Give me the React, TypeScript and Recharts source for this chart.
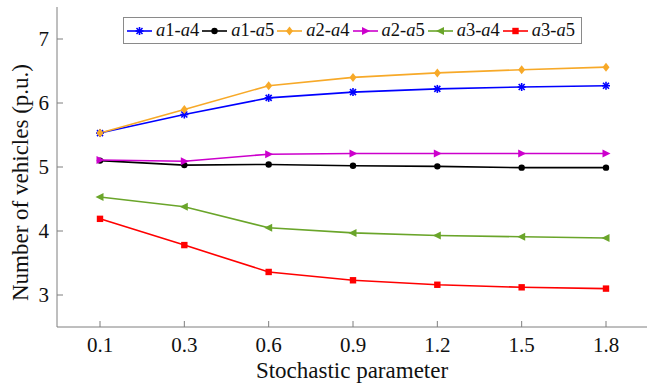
import React from "react";
import { LineChart, Line, XAxis, YAxis } from "recharts";

document.body.style.margin = "0";

const params = ["0.1", "0.3", "0.6", "0.9", "1.2", "1.5", "1.8"];
const a1a4 = [5.53, 5.82, 6.08, 6.17, 6.22, 6.25, 6.27];
const a1a5 = [5.1, 5.03, 5.04, 5.02, 5.01, 4.99, 4.99];
const a2a4 = [5.53, 5.9, 6.27, 6.4, 6.47, 6.52, 6.56];
const a2a5 = [5.11, 5.09, 5.2, 5.21, 5.21, 5.21, 5.21];
const a3a4 = [4.53, 4.38, 4.05, 3.97, 3.93, 3.91, 3.89];
const a3a5 = [4.19, 3.78, 3.36, 3.23, 3.16, 3.12, 3.1];
const yTicks = [3, 4, 5, 6, 7];

const FONT = "'Liberation Serif', 'Times New Roman', 'DejaVu Serif', serif";
const AXIS = "#7f7f7f";

type Shape = "star" | "circle" | "diamond" | "right" | "left" | "square";

const series: { key: string; from: string; to: string; color: string; shape: Shape; values: number[] }[] = [
  { key: "a1a4", from: "1", to: "4", color: "#0000ff", shape: "star", values: a1a4 },
  { key: "a1a5", from: "1", to: "5", color: "#000000", shape: "circle", values: a1a5 },
  { key: "a2a4", from: "2", to: "4", color: "#f7a928", shape: "diamond", values: a2a4 },
  { key: "a2a5", from: "2", to: "5", color: "#cc00cc", shape: "right", values: a2a5 },
  { key: "a3a4", from: "3", to: "4", color: "#6aa52a", shape: "left", values: a3a4 },
  { key: "a3a5", from: "3", to: "5", color: "#ff0000", shape: "square", values: a3a5 },
];

const data = params.map((p, i) => {
  const row: Record<string, string | number> = { p };
  series.forEach((s) => (row[s.key] = s.values[i]));
  return row;
});

function Marker({ cx, cy, color, shape }: { cx: number; cy: number; color: string; shape: Shape }) {
  switch (shape) {
    case "star":
      return (
        <g stroke={color} strokeWidth={1.6}>
          <line x1={cx - 4} y1={cy} x2={cx + 4} y2={cy} />
          <line x1={cx} y1={cy - 4} x2={cx} y2={cy + 4} />
          <line x1={cx - 3} y1={cy - 3} x2={cx + 3} y2={cy + 3} />
          <line x1={cx - 3} y1={cy + 3} x2={cx + 3} y2={cy - 3} />
        </g>
      );
    case "circle":
      return <circle cx={cx} cy={cy} r={3.2} fill={color} />;
    case "diamond":
      return <polygon points={`${cx},${cy - 4.5} ${cx + 3.5},${cy} ${cx},${cy + 4.5} ${cx - 3.5},${cy}`} fill={color} />;
    case "right":
      return <polygon points={`${cx - 3.5},${cy - 4} ${cx + 4.5},${cy} ${cx - 3.5},${cy + 4}`} fill={color} />;
    case "left":
      return <polygon points={`${cx + 3.5},${cy - 4} ${cx - 4.5},${cy} ${cx + 3.5},${cy + 4}`} fill={color} />;
    default:
      return <rect x={cx - 3.2} y={cy - 3.2} width={6.4} height={6.4} fill={color} />;
  }
}

function LegendBox() {
  return (
    <div
      style={{
        position: "absolute",
        top: 17,
        left: 123,
        display: "flex",
        alignItems: "center",
        border: "1px solid #8a8a8a",
        background: "#fff",
        height: 25,
        padding: "0 3px 0 3px",
        fontFamily: FONT,
        fontSize: 18.5,
        color: "#111",
        whiteSpace: "nowrap",
      }}
    >
      {series.map((s) => (
        <div key={s.key} style={{ display: "flex", alignItems: "center", marginRight: 3 }}>
          <svg width={25} height={12} style={{ marginRight: 4 }}>
            <line x1={0} y1={6} x2={25} y2={6} stroke={s.color} strokeWidth={1.6} />
            <Marker cx={12.5} cy={6} color={s.color} shape={s.shape} />
          </svg>
          <span>
            <i>a</i>
            {s.from}-<i>a</i>
            {s.to}
          </span>
        </div>
      ))}
    </div>
  );
}

export default function App() {
  return (
    <div style={{ width: 651, height: 389, background: "#fff", position: "relative", fontFamily: FONT }}>
      <LineChart width={651} height={389} data={data} margin={{ top: 7, right: 4, left: 0, bottom: 0 }}>
        <XAxis
          dataKey="p"
          type="category"
          padding={{ left: 43, right: 41 }}
          height={62}
          stroke={AXIS}
          tickSize={-6}
          tickMargin={16}
          tick={{ fill: "#111", fontSize: 21, fontFamily: FONT }}
          label={{ value: "Stochastic parameter", position: "insideBottom", offset: 11, fill: "#111", fontSize: 23, fontFamily: FONT }}
        />
        <XAxis
          xAxisId="top"
          dataKey="p"
          type="category"
          orientation="top"
          padding={{ left: 43, right: 41 }}
          height={0}
          stroke={AXIS}
          tickSize={-6}
          tick={false}
        />
        <YAxis
          domain={[2.5, 7.5]}
          ticks={yTicks}
          width={57}
          stroke={AXIS}
          tickSize={-6}
          tickMargin={14}
          tick={{ fill: "#111", fontSize: 21, fontFamily: FONT }}
          label={{ value: "Number of vehicles (p.u.)", angle: -90, position: "insideLeft", offset: 20, dy: 134, fill: "#111", fontSize: 23, fontFamily: FONT }}
        />
        <YAxis
          yAxisId="right"
          orientation="right"
          domain={[2.5, 7.5]}
          ticks={yTicks}
          width={0}
          stroke={AXIS}
          tickSize={-6}
          tick={false}
        />
        {series.map((s) => (
          <Line
            key={s.key}
            dataKey={s.key}
            stroke={s.color}
            strokeWidth={1.6}
            isAnimationActive={false}
            dot={(props: any) => <Marker key={props.index} cx={props.cx} cy={props.cy} color={s.color} shape={s.shape} />}
            activeDot={false}
          />
        ))}
      </LineChart>
      <LegendBox />
    </div>
  );
}
